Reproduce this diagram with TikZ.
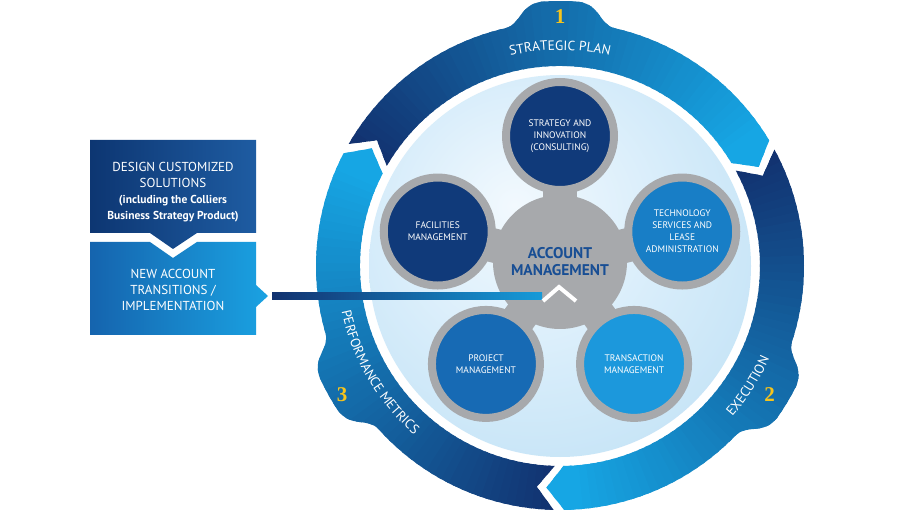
\documentclass[tikz,border=0pt]{standalone}
\usepackage{fontspec}
\setmainfont{PT Sans}
\newfontfamily\numfont{Liberation Serif}
\usepackage{xcolor}
\usetikzlibrary{positioning, decorations.text, calc}

\definecolor{navyblue}{RGB}{18,50,112}
\definecolor{brightblue}{RGB}{22,166,228}
\definecolor{ringgray}{RGB}{167,169,172}
\definecolor{diskedge}{RGB}{186,222,244}
\definecolor{diskmid}{RGB}{214,236,250}
\definecolor{diskcore}{RGB}{242,249,254}
\definecolor{accttext}{RGB}{24,78,148}
\definecolor{badgegold}{RGB}{246,196,28}
\definecolor{satdark}{RGB}{16,58,122}
\definecolor{satmid}{RGB}{23,106,180}
\definecolor{sattech}{RGB}{24,126,198}
\definecolor{satbright}{RGB}{28,152,220}
\definecolor{boxnavyA}{RGB}{13,54,114}
\definecolor{boxnavyB}{RGB}{30,92,162}
\definecolor{boxblueA}{RGB}{21,100,174}
\definecolor{boxblueB}{RGB}{26,162,226}

\pgfdeclarelayer{back}
\pgfdeclarelayer{mid}
\pgfsetlayers{back,mid,main}

\pgfdeclareradialshading{diskshade}{\pgfpoint{-6bp}{8bp}}{%
  color(0bp)=(diskcore); color(20bp)=(diskmid); color(42bp)=(diskedge); color(70bp)=(diskedge)}

% one coloured piece of the outer ring: tail angle, head angle, bump angle
\newcommand{\ringpiece}[3]{%
  \begin{scope}
    \clip (#1:244) arc[start angle=#1, end angle={#3+13}, radius=244]
      .. controls ({#3+9}:245) and ({#3+9}:264) .. ({#3+4}:265)
      arc[start angle={#3+4}, end angle={#3-4}, radius=265]
      .. controls ({#3-9}:264) and ({#3-9}:245) .. ({#3-13}:244)
      arc[start angle={#3-13}, end angle=#2, radius=244]
      -- ({#2-4.5}:222) -- (#2:200)
      arc[start angle=#2, end angle=#1, radius=200]
      -- ({#1-4.5}:222) -- cycle;
    \foreach \i in {0,...,60}{
      \pgfmathsetmacro\ang{#1+1-\i*(#1-#2+7)/60}
      \pgfmathtruncatemacro\pct{min(100,100*\i/55)}
      \fill[brightblue!\pct!navyblue] (0,0) -- (\ang:290)
        arc[start angle=\ang, end angle=\ang-3, radius=290] -- cycle;
    }
  \end{scope}}

\begin{document}
\begin{tikzpicture}[x=1pt, y=1pt,
    hub/.style={circle, fill=ringgray, minimum size=134, inner sep=0, align=center, text=accttext, font=\bfseries\fontsize{15.5}{17}\selectfont},
    sat/.style={circle, draw=ringgray, line width=8, minimum size=108, inner sep=0, align=center, text=white, font=\fontsize{9.5}{12}\selectfont},
    neck/.style={ringgray, line width=34},
    badge/.style={text=badgegold, font=\numfont\bfseries\fontsize{21}{21}\selectfont, inner sep=0},
    boxtext/.style={text=white, align=center, inner sep=0, font=\fontsize{13}{16}\selectfont},
    arclabel/.style={decorate, decoration={text along path, text align=center, text={|\color{white}\fontsize{13.5}{15}\selectfont|#1}}}
]

\useasboundingbox (0,0) rectangle (900,520);

% outer ring and inner disk
\begin{pgfonlayer}{back}
\fill[white] (0,0) rectangle (900,520);
\begin{scope}[shift={(560,254)}]
  \shade[shading=diskshade] (0,0) circle (191);
  \ringpiece{150}{31}{90}
  \ringpiece{28.5}{-89}{-31}
  \ringpiece{268.5}{152.5}{209}

  \path[arclabel={STRATEGIC PLAN}] (120:216) arc[start angle=120, end angle=60, radius=216];
  \path[arclabel={EXECUTION}] (-62:229) arc[start angle=-62, end angle=-3, radius=229];
  \path[arclabel={PERFORMANCE METRICS}] (178:223) arc[start angle=178, end angle=243, radius=223];

  \node[badge] (num1) at (90:249) {1};
  \node[badge] (num2) at (-31.6:246) {2};
  \node[badge] (num3) at (210.6:253) {3};
\end{scope}
\end{pgfonlayer}

% account management and the five services
\begin{scope}[shift={(560,258)}]
  \node[hub] (acct) at (0,0) {ACCOUNT\\MANAGEMENT};
  \node[sat, fill=satdark] (strategy) at (90:126) {STRATEGY AND\\INNOVATION\\(CONSULTING)};
  \node[sat, fill=satdark] (facilities) at (166:126) {FACILITIES\\MANAGEMENT};
  \node[sat, fill=sattech] (technology) at (14:126) {TECHNOLOGY\\SERVICES AND\\LEASE\\ADMINISTRATION};
  \node[sat, fill=satmid] (project) at (234:126) {PROJECT\\MANAGEMENT};
  \node[sat, fill=satbright] (transaction) at (306:126) {TRANSACTION\\MANAGEMENT};
\end{scope}

\begin{pgfonlayer}{mid}
  \foreach \s in {strategy, facilities, technology, project, transaction}
    \draw[neck] (acct.center) -- (\s.center);
\end{pgfonlayer}

% left boxes
\shade[left color=boxnavyA, right color=boxnavyB]
  (90,380) -- (256,380) -- (256,287) -- (197,287) -- (173,271) -- (150,287) -- (90,287) -- cycle;
\shade[left color=boxblueA, right color=boxblueB]
  (90,278) -- (150,278) -- (173,262) -- (197,278) -- (256,278) -- (256,235)
  -- (268,224) -- (256,213) -- (256,185) -- (90,185) -- cycle;

\node[boxtext] (design) at (173,328) {DESIGN CUSTOMIZED\\SOLUTIONS\\
  {\bfseries\fontsize{11.5}{16}\selectfont (including the Colliers}\\
  {\bfseries\fontsize{11.5}{16}\selectfont Business Strategy Product)}};
\node[boxtext] (newacct) at (173,230) {NEW ACCOUNT\\TRANSITIONS /\\IMPLEMENTATION};

% feed line into the hub
\coordinate (boxtip) at (272,224);
\coordinate (barend) at (542,224);
\shade[left color=navyblue, right color=brightblue!90!navyblue]
  ($(boxtip)+(0,-3.5)$) rectangle ($(barend)+(0,3.5)$);
\draw[white, line width=4, line join=miter] (543,219) -- (559,233) -- (576,219);

\end{tikzpicture}
\end{document}
